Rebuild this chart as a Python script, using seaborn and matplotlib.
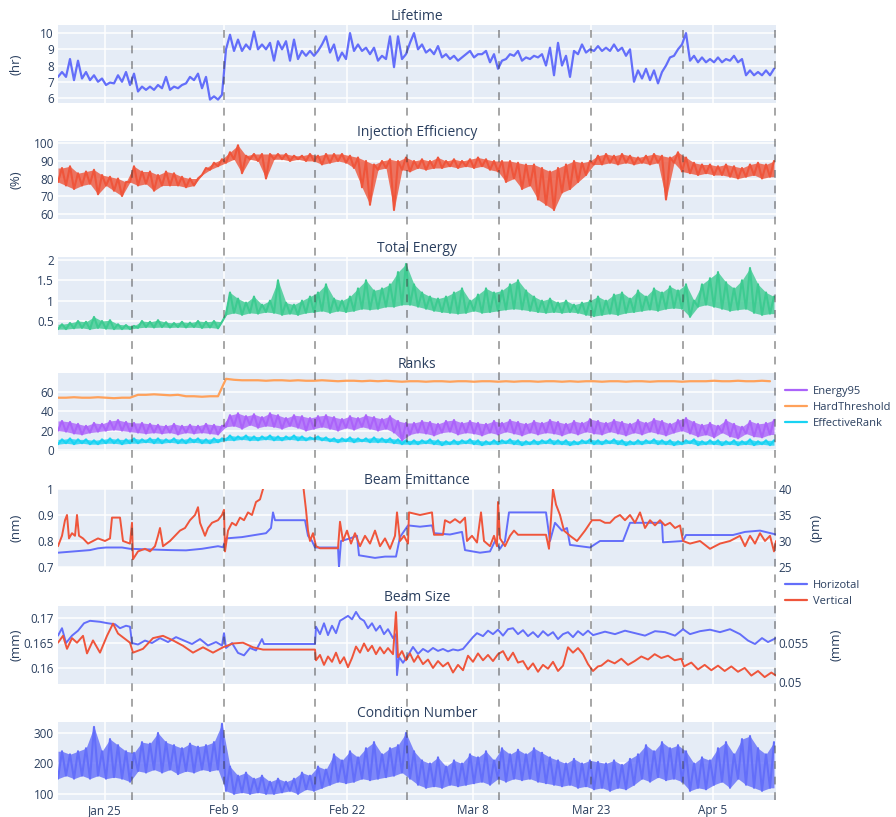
import numpy as np
import matplotlib
matplotlib.use("Agg")
import matplotlib.pyplot as plt
import matplotlib.transforms as mtransforms
from matplotlib.lines import Line2D
from matplotlib.ticker import FuncFormatter
import seaborn as sns

# x axis is "hours since start of the run", ticks carry the date text
tick_hours = [141, 498, 867, 1245, 1599, 1965]
tick_labels = ["Jan 25", "Feb 9", "Feb 22", "Mar 8", "Mar 23", "Apr 5"]
event_hours = [222, 498, 771, 1047, 1323, 1599, 1875, 2151]  # dashed markers

# daily low / high envelopes (one value per day, 90 days)
lifetime_lo = [7.3, 7.3, 7.1, 7.2, 7.1, 7.0, 6.8, 6.9, 7.0, 6.8, 6.4, 6.5, 6.5, 6.6, 6.5, 6.6, 6.9, 7.1, 6.6, 5.9,
               5.9, 9.0, 8.9, 8.9, 9.0, 9.0, 9.0, 8.3, 9.0, 8.3, 8.4, 8.6, 8.6, 9.3, 8.8, 8.3, 8.4, 8.9, 8.9, 8.7,
               8.3, 8.4, 7.9, 8.4, 9.4, 9.0, 8.8, 8.7, 8.5, 8.4, 8.3, 8.7, 8.5, 8.7, 8.2, 7.8, 8.4, 8.6, 8.3, 8.4,
               8.5, 8.0, 7.4, 8.0, 7.3, 8.7, 8.8, 8.9, 8.9, 8.9, 8.9, 8.6, 7.0, 7.2, 7.1, 6.9, 8.0, 8.6, 9.3, 8.3,
               8.2, 8.2, 8.2, 8.2, 8.3, 8.2, 7.4, 7.4, 7.4, 7.4]
lifetime_hi = [7.6, 8.4, 8.3, 7.6, 7.4, 7.2, 6.95, 7.4, 7.6, 7.5, 6.7, 6.7, 6.8, 7.3, 6.7, 6.8, 7.3, 7.5, 7.3, 6.1,
               6.2, 9.9, 9.6, 9.3, 10.1, 9.3, 9.4, 9.5, 9.5, 9.6, 8.9, 8.9, 8.9, 9.8, 9.3, 8.8, 10.0, 9.3, 9.1, 9.1,
               8.6, 9.8, 9.8, 8.7, 10.0, 9.3, 9.0, 9.2, 8.7, 8.6, 8.5, 8.9, 8.7, 8.9, 8.7, 8.3, 8.7, 8.9, 8.5, 8.6,
               8.7, 9.1, 9.4, 8.6, 8.9, 9.3, 9.0, 9.2, 9.1, 9.3, 9.1, 9.0, 7.7, 7.8, 7.7, 7.6, 8.5, 9.0, 10.0, 8.6,
               8.5, 8.4, 8.5, 8.4, 8.6, 8.4, 7.7, 7.6, 7.7, 7.8]

inj_lo = [78, 76, 74, 76, 77, 71, 76, 73, 70, 78, 76, 77, 73, 76, 76, 76, 75, 76, 82, 85,
          87, 89, 91, 83, 91, 90, 80, 91, 91, 90, 91, 90, 90, 88, 89, 90, 89, 86, 75, 65,
          85, 86, 62, 85, 84, 86, 85, 86, 86, 87, 86, 87, 86, 87, 85, 84, 78, 80, 74, 76,
          68, 65, 62, 72, 74, 78, 82, 88, 88, 89, 88, 89, 88, 89, 88, 89, 68, 89, 84, 83,
          82, 83, 82, 82, 81, 80, 81, 82, 80, 81]
inj_hi = [86, 87, 83, 84, 85, 82, 81, 80, 78, 87, 84, 84, 82, 84, 83, 81, 80, 80, 86, 89,
          91, 95, 99, 93, 94, 94, 94, 94, 94, 93, 93, 94, 93, 94, 94, 94, 93, 92, 90, 88,
          90, 91, 90, 92, 90, 91, 90, 92, 90, 91, 90, 91, 92, 91, 90, 90, 90, 89, 88, 88,
          86, 84, 86, 88, 90, 89, 90, 93, 94, 93, 94, 93, 92, 93, 94, 93, 92, 95, 92, 89,
          88, 88, 87, 88, 87, 86, 88, 89, 88, 90]

energy_lo = [0.30, 0.30, 0.32, 0.33, 0.30, 0.33, 0.31, 0.30, 0.30, 0.30, 0.33, 0.35, 0.34, 0.35, 0.34,
             0.35, 0.34, 0.35, 0.33, 0.34, 0.32, 0.65, 0.70, 0.65, 0.70, 0.68, 0.72, 0.70, 0.65, 0.68,
             0.65, 0.70, 0.72, 0.75, 0.70, 0.75, 0.72, 0.75, 0.80, 0.78, 0.80, 0.85, 0.85, 0.90, 0.90,
             0.85, 0.80, 0.75, 0.72, 0.70, 0.68, 0.70, 0.75, 0.70, 0.72, 0.75, 0.78, 0.80, 0.78, 0.75,
             0.72, 0.70, 0.72, 0.70, 0.72, 0.70, 0.65, 0.62, 0.65, 0.68, 0.65, 0.70, 0.72, 0.75, 0.78,
             0.75, 0.80, 0.82, 0.80, 0.60, 0.85, 0.90, 0.85, 0.80, 0.75, 0.78, 0.80, 0.70, 0.65, 0.68]
energy_hi = [0.42, 0.45, 0.50, 0.48, 0.60, 0.50, 0.52, 0.42, 0.40, 0.38, 0.50, 0.48, 0.52, 0.47, 0.45,
             0.48, 0.46, 0.50, 0.48, 0.50, 0.48, 1.20, 1.05, 0.95, 1.10, 0.90, 1.00, 1.50, 0.95, 0.90,
             1.00, 1.10, 1.20, 1.40, 1.05, 1.00, 1.10, 1.30, 1.50, 1.25, 1.30, 1.40, 1.70, 1.90, 1.40,
             1.20, 1.10, 1.05, 1.10, 1.20, 1.30, 1.00, 1.15, 1.30, 1.20, 1.25, 1.40, 1.50, 1.25, 1.10,
             1.00, 1.05, 0.95, 1.00, 0.90, 0.95, 1.00, 1.10, 1.00, 1.15, 1.20, 1.05, 1.25, 1.10, 1.30,
             1.20, 1.35, 1.25, 1.40, 1.00, 1.40, 1.55, 1.70, 1.45, 1.30, 1.50, 1.80, 1.40, 1.20, 1.10]

e95_lo = [20, 19, 17, 16, 18, 19, 20, 21, 20, 19, 18, 17, 18, 17, 18, 16, 18, 17, 18, 17,
          16, 24, 25, 22, 26, 23, 25, 24, 22, 25, 23, 20, 22, 24, 22, 20, 23, 21, 24, 22,
          20, 22, 18, 10, 16, 18, 17, 15, 18, 19, 16, 18, 17, 15, 18, 16, 19, 17, 15, 18,
          16, 18, 17, 15, 18, 16, 19, 17, 16, 19, 17, 15, 18, 16, 19, 17, 15, 18, 20, 17,
          14, 16, 13, 18, 14, 12, 17, 14, 13, 16]
e95_hi = [30, 29, 27, 25, 28, 27, 30, 31, 29, 28, 28, 27, 26, 25, 27, 25, 26, 25, 27, 26,
          25, 36, 38, 35, 37, 34, 38, 36, 33, 36, 35, 33, 35, 36, 34, 32, 35, 33, 36, 34,
          32, 35, 30, 28, 28, 30, 29, 27, 30, 31, 28, 30, 28, 27, 30, 28, 31, 29, 27, 30,
          28, 31, 29, 27, 30, 28, 32, 30, 28, 31, 29, 27, 31, 28, 32, 30, 27, 31, 33, 29,
          26, 28, 25, 31, 27, 24, 30, 27, 28, 31]
hard_threshold = [54, 54, 54.5, 54, 54, 54.5, 54, 53.5, 54, 54, 57, 57, 57.5, 57, 56.5, 57, 55.5, 55.5, 55, 55.5,
                  55.5, 73.5, 72.5, 72, 72, 72, 71.5, 72, 72, 71.5, 72, 71.5, 71.5, 72, 71.5, 71, 71.5, 71.5, 71, 71.5,
                  71, 71.5, 71, 70.5, 71, 71, 70.5, 71, 71, 70.5, 71, 71, 70.5, 71, 71, 70.5, 71, 70.5, 71, 71,
                  70.5, 71, 71, 70.5, 71, 70.5, 71, 71, 70.5, 71, 71, 70.5, 71, 71, 70.5, 71, 71, 71, 70.5, 71,
                  71, 71, 71.5, 71, 71, 71.5, 71, 71, 71.5, 71]
eff_lo = [6, 7, 6, 7, 6, 6, 7, 7, 6, 7, 7, 8, 7, 7, 8, 7, 7, 8, 7, 7,
          8, 10, 10, 11, 10, 10, 11, 10, 10, 11, 10, 10, 11, 10, 9, 8, 9, 8, 9, 8,
          8, 8, 7, 6, 6, 6, 7, 6, 5, 6, 6, 7, 6, 5, 6, 6, 7, 6, 5, 6,
          6, 7, 6, 6, 5, 6, 7, 6, 6, 7, 6, 5, 6, 6, 7, 6, 6, 5, 6, 7,
          5, 6, 6, 5, 6, 5, 6, 5, 6, 5]
eff_hi = [11, 12, 11, 11, 10, 11, 12, 11, 11, 12, 11, 12, 12, 11, 12, 11, 12, 12, 11, 12,
          12, 15, 14, 15, 14, 14, 15, 14, 14, 15, 14, 13, 14, 13, 12, 12, 13, 12, 12, 13,
          12, 12, 11, 10, 10, 10, 11, 10, 9, 10, 10, 11, 10, 9, 10, 10, 11, 10, 9, 10,
          10, 11, 10, 10, 9, 10, 11, 10, 10, 11, 10, 9, 10, 10, 11, 10, 10, 9, 10, 11,
          9, 10, 10, 9, 10, 9, 11, 9, 10, 10]

cond_lo = [150, 160, 150, 160, 150, 160, 150, 155, 150, 140, 175, 170, 180, 170, 180, 165, 175, 170, 180, 175,
           180, 110, 100, 105, 100, 105, 100, 100, 105, 110, 100, 115, 110, 120, 130, 140, 135, 140, 150, 145,
           150, 155, 160, 170, 150, 130, 120, 125, 120, 130, 125, 130, 135, 140, 130, 150, 140, 150, 145, 150,
           140, 135, 130, 125, 130, 120, 125, 115, 120, 110, 120, 115, 130, 150, 140, 155, 145, 150, 140, 110,
           120, 115, 130, 140, 120, 150, 130, 120, 110, 120]
cond_hi = [240, 230, 240, 250, 320, 240, 280, 260, 240, 235, 270, 265, 300, 270, 260, 250, 265, 255, 260, 270,
           330, 190, 160, 170, 150, 160, 140, 150, 140, 150, 170, 160, 190, 180, 230, 210, 240, 220, 250, 270,
           230, 250, 260, 300, 240, 210, 200, 220, 190, 210, 200, 230, 220, 240, 210, 250, 230, 245, 230, 250,
           235, 220, 210, 200, 215, 200, 210, 205, 200, 210, 195, 215, 230, 260, 240, 270, 250, 260, 240, 200,
           220, 210, 250, 270, 230, 280, 290, 250, 230, 270]

# beam emittance: horizontal in nm (left axis), vertical in pm (right axis)
emit_h_hours = [0, 48, 96, 120, 144, 192, 216, 264, 336, 384,
                432, 480, 495, 504, 552, 600, 624, 639, 645, 651,
                741, 750, 762, 771, 840, 843, 849, 876, 897, 903,
                951, 981, 1014, 1026, 1050, 1086, 1122, 1128, 1176, 1212,
                1221, 1266, 1296, 1311, 1326, 1341, 1353, 1464, 1476, 1491,
                1512, 1527, 1536, 1596, 1626, 1695, 1716, 1812, 1815, 1875,
                1884, 2025, 2061, 2106, 2154]
emit_h = [0.755, 0.76, 0.765, 0.772, 0.775, 0.775, 0.77, 0.768, 0.765, 0.764,
          0.77, 0.78, 0.776, 0.81, 0.815, 0.825, 0.83, 0.85, 0.91, 0.88,
          0.88, 0.82, 0.80, 0.775, 0.775, 0.70, 0.80, 0.81, 0.82, 0.745,
          0.735, 0.74, 0.74, 0.815, 0.86, 0.855, 0.86, 0.83, 0.825, 0.835,
          0.765, 0.755, 0.76, 0.80, 0.77, 0.80, 0.91, 0.91, 0.80, 0.87,
          0.84, 0.85, 0.785, 0.775, 0.80, 0.80, 0.87, 0.87, 0.795, 0.80,
          0.823, 0.823, 0.835, 0.84, 0.825]
emit_v_hours = [0, 12, 21, 27, 33, 42, 51, 57, 63, 75,
                90, 105, 120, 141, 156, 162, 186, 195, 216, 222,
                225, 240, 261, 276, 291, 300, 306, 315, 336, 351,
                366, 381, 396, 411, 420, 426, 441, 450, 462, 480,
                492, 498, 501, 510, 522, 534, 546, 558, 570, 582,
                594, 606, 615, 630, 666, 711, 726, 735, 744, 750,
                756, 765, 774, 786, 840, 846, 855, 867, 879, 891,
                906, 921, 936, 951, 966, 981, 996, 1011, 1017, 1026,
                1038, 1050, 1053, 1086, 1122, 1128, 1155, 1161, 1176, 1191,
                1206, 1221, 1227, 1242, 1257, 1269, 1278, 1296, 1308, 1317,
                1320, 1326, 1341, 1356, 1368, 1380, 1464, 1473, 1485, 1494,
                1506, 1518, 1536, 1557, 1581, 1602, 1626, 1641, 1656, 1671,
                1686, 1701, 1716, 1731, 1746, 1761, 1776, 1791, 1806, 1821,
                1836, 1851, 1866, 1875, 1896, 1926, 1956, 1986, 2016, 2046,
                2061, 2076, 2091, 2106, 2121, 2136, 2148, 2154]
emit_v = [29, 31, 34, 35, 30.5, 31.5, 31, 35, 31, 30.5,
          29.5, 30, 30.5, 30, 30.5, 34.5, 34.5, 30, 29.5, 33.5,
          26.5, 28, 28.5, 28, 29, 31, 32.5, 29, 30, 31,
          32, 32.5, 34, 35, 36.5, 33.5, 31, 32.5, 33.5, 34,
          35, 36, 28, 32, 33.5, 33, 34.5, 34, 35.5, 35,
          37.5, 38, 40, 41.5, 42.5, 42, 41, 41, 36, 32,
          30, 31.5, 29, 28.6, 28.6, 33.7, 30, 32, 29.5, 31.5,
          29, 31, 29.5, 32, 29, 30.5, 28.5, 31, 35.5, 30,
          31, 29.5, 35.5, 35, 35.5, 31.2, 31.2, 34, 33.5, 34.2,
          33.5, 34.5, 30, 31, 29.7, 35.5, 30, 29, 31, 29,
          37.5, 30.5, 29, 31, 32, 31.2, 31.2, 28.5, 40, 37,
          35, 32, 31, 30, 32, 34, 34, 33.5, 33.5, 34.5,
          35, 34, 35, 33.5, 35.5, 32.5, 34, 33, 34, 33,
          33.5, 32.5, 33, 30, 29.5, 30, 28.5, 29.5, 30, 31,
          29, 31, 29.5, 31.5, 30, 31, 28, 30]

# beam size: horizontal on the left axis, vertical on the right axis (mm)
size_h_hours = [0, 12, 24, 42, 60, 78, 96, 126, 150, 171,
                186, 204, 216, 222, 240, 261, 282, 306, 330, 354,
                378, 402, 426, 450, 474, 492, 498, 504, 522, 540,
                558, 576, 594, 612, 618, 771, 774, 786, 798, 810,
                822, 834, 846, 858, 870, 882, 894, 906, 918, 930,
                942, 954, 966, 978, 990, 1005, 1014, 1017, 1023, 1035,
                1050, 1065, 1080, 1095, 1110, 1125, 1140, 1155, 1170, 1185,
                1200, 1215, 1230, 1245, 1257, 1275, 1290, 1305, 1320, 1335,
                1350, 1365, 1380, 1395, 1410, 1425, 1440, 1455, 1470, 1485,
                1500, 1515, 1530, 1545, 1560, 1575, 1590, 1605, 1641, 1671,
                1701, 1731, 1761, 1791, 1821, 1851, 1875, 1896, 1926, 1956,
                1986, 2016, 2046, 2070, 2091, 2112, 2130, 2154]
size_h = [0.1665, 0.168, 0.165, 0.1665, 0.1675, 0.169, 0.1695, 0.1693, 0.169, 0.1688,
          0.168, 0.1685, 0.1683, 0.165, 0.1647, 0.1655, 0.165, 0.166, 0.1652, 0.1662,
          0.1655, 0.1648, 0.1658, 0.1645, 0.1652, 0.1645, 0.167, 0.164, 0.165, 0.163,
          0.1625, 0.164, 0.1635, 0.1658, 0.1648, 0.1648, 0.1683, 0.1668, 0.169, 0.1666,
          0.1685, 0.167, 0.1695, 0.170, 0.1705, 0.1698, 0.1713, 0.170, 0.1695, 0.168,
          0.169, 0.1675, 0.1685, 0.1668, 0.1678, 0.166, 0.1668, 0.1585, 0.1622, 0.161,
          0.1625, 0.1642, 0.1628, 0.1638, 0.1632, 0.164, 0.1634, 0.1638, 0.1633, 0.1637,
          0.1635, 0.1638, 0.165, 0.1662, 0.167, 0.1664, 0.1675, 0.1668, 0.1677, 0.1665,
          0.1678, 0.168, 0.1668, 0.1676, 0.1664, 0.1672, 0.1662, 0.1674, 0.1665, 0.1672,
          0.1658, 0.1668, 0.1672, 0.1662, 0.1674, 0.1666, 0.1675, 0.1666, 0.1673, 0.1668,
          0.1675, 0.167, 0.1665, 0.1674, 0.1672, 0.1665, 0.1678, 0.1668, 0.1674, 0.1677,
          0.1672, 0.1678, 0.1668, 0.1655, 0.1648, 0.166, 0.1652, 0.166]
size_v_hours = [0, 15, 27, 42, 57, 75, 87, 105, 126, 147,
                165, 180, 195, 216, 225, 255, 285, 315, 345, 375,
                405, 435, 465, 495, 525, 555, 585, 615, 771, 774,
                786, 798, 810, 822, 834, 846, 858, 870, 882, 894,
                906, 918, 930, 942, 954, 966, 978, 990, 1005, 1014,
                1020, 1032, 1044, 1056, 1068, 1080, 1095, 1110, 1125, 1140,
                1155, 1170, 1185, 1200, 1215, 1230, 1245, 1260, 1275, 1290,
                1305, 1320, 1335, 1350, 1365, 1380, 1395, 1410, 1425, 1440,
                1455, 1470, 1485, 1500, 1515, 1530, 1545, 1560, 1575, 1590,
                1605, 1620, 1630, 1650, 1670, 1690, 1710, 1730, 1750, 1770,
                1790, 1810, 1830, 1850, 1870, 1878, 1900, 1920, 1940, 1960,
                1980, 2000, 2020, 2040, 2060, 2080, 2100, 2120, 2140, 2154]
size_v = [0.0551, 0.0560, 0.0543, 0.0557, 0.0551, 0.0560, 0.0537, 0.0554, 0.0538, 0.0560,
          0.0576, 0.0563, 0.0558, 0.0551, 0.0538, 0.0543, 0.0557, 0.0560, 0.0554, 0.0547,
          0.0538, 0.0545, 0.0538, 0.0545, 0.0550, 0.0551, 0.0545, 0.0542, 0.0542, 0.0528,
          0.0535, 0.0522, 0.0533, 0.0526, 0.0538, 0.0524, 0.0532, 0.0519, 0.0531, 0.0546,
          0.0538, 0.0550, 0.0540, 0.0547, 0.0536, 0.0545, 0.0537, 0.0544, 0.0536, 0.0591,
          0.0532, 0.0540, 0.0528, 0.0537, 0.0526, 0.0534, 0.0523, 0.0529, 0.0518, 0.0527,
          0.0520, 0.0525, 0.0512, 0.0522, 0.0515, 0.0534, 0.0526, 0.0537, 0.0528, 0.0535,
          0.0527, 0.0536, 0.0540, 0.0528, 0.0538, 0.0525, 0.0527, 0.0516, 0.0524, 0.0513,
          0.0522, 0.0517, 0.0526, 0.0514, 0.0521, 0.0545, 0.0538, 0.0544, 0.0536, 0.0523,
          0.0514, 0.0520, 0.0521, 0.0528, 0.0524, 0.0530, 0.0522, 0.0527, 0.0533, 0.0529,
          0.0536, 0.0531, 0.0534, 0.0528, 0.0530, 0.0520, 0.0525, 0.0516, 0.0522, 0.0515,
          0.0521, 0.0514, 0.0520, 0.0513, 0.0518, 0.0508, 0.0514, 0.0506, 0.0512, 0.0508]

BLUE, RED, GREEN = "#636EFA", "#EF553B", "#3DCB91"
PURPLE, ORANGE, CYAN = "#AB63FA", "#FFA15A", "#19D3F3"
TXT = "#2a3f5f"

sns.set_theme(style="darkgrid")
plt.rcParams["font.family"] = ["Open Sans", "DejaVu Sans"]
plt.rcParams["text.color"] = TXT


def zigzag(lo, hi):
    # alternate daily low and high readings, half a day apart
    hours = np.arange(len(lo)) * 24
    x = np.column_stack([hours, hours + 12]).ravel()
    y = np.column_stack([lo, hi]).ravel()
    return x, y


def draw(ax, x, y, color, lw=1.4):
    sns.lineplot(x=np.asarray(x), y=np.asarray(y), ax=ax, color=color, linewidth=lw,
                 estimator=None, sort=False, legend=False)


def band(ax, lo, hi, color):
    # dense noise: shade the daily envelope, then trace the readings on top
    x, y = zigzag(lo, hi)
    ax.fill_between(x, np.interp(x, x[0::2], lo), np.interp(x, x[1::2], hi),
                    color=color, alpha=0.8, linewidth=0)
    draw(ax, x, y, color, lw=1.5)


fmt = FuncFormatter(lambda v, p: "{:g}".format(v))

W, H = 896, 817
fig = plt.figure(figsize=(W / 100, H / 100), dpi=100)
tops = [25, 141, 257, 373, 489, 606, 722]
axes = []
for top in tops:
    ax = fig.add_axes([58 / W, 1 - (top + 78) / H, 718 / W, 78 / H])
    ax.set_facecolor("#E5ECF6")
    ax.grid(True, color="white", linewidth=1.1)
    for s in ax.spines.values():
        s.set_visible(False)
    ax.tick_params(length=0, labelsize=8.5, colors=TXT, pad=3)
    axes.append(ax)

titles = ["Lifetime", "Injection Efficiency", "Total Energy", "Ranks",
          "Beam Emittance", "Beam Size", "Condition Number"]

draw(axes[0], *zigzag(lifetime_lo, lifetime_hi), BLUE, lw=1.6)
band(axes[1], inj_lo, inj_hi, RED)
band(axes[2], energy_lo, energy_hi, GREEN)
draw(axes[3], np.arange(len(hard_threshold)) * 24, hard_threshold, ORANGE, lw=1.6)
band(axes[3], e95_lo, e95_hi, PURPLE)
band(axes[3], eff_lo, eff_hi, CYAN)
draw(axes[4], emit_h_hours, emit_h, BLUE)
draw(axes[5], size_h_hours, size_h, BLUE)
band(axes[6], cond_lo, cond_hi, BLUE)

ax5r = axes[4].twinx()
draw(ax5r, emit_v_hours, emit_v, RED)
ax6r = axes[5].twinx()
draw(ax6r, size_v_hours, size_v, RED)
for axr in (ax5r, ax6r):
    axr.grid(False)
    for s in axr.spines.values():
        s.set_visible(False)
    axr.tick_params(length=0, labelsize=8.5, colors=TXT, pad=2)
    axr.yaxis.set_major_formatter(fmt)

ylims = [(5.69, 10.5), (56.9, 101.4), (0.156, 2.07), (-1, 79.5), (0.7, 1.0), (0.1567, 0.1725), (80, 336)]
yticks = [[6, 7, 8, 9, 10], [60, 70, 80, 90, 100], [0.5, 1, 1.5, 2], [0, 20, 40, 60],
          [0.7, 0.8, 0.9, 1], [0.16, 0.165, 0.17], [100, 200, 300]]
ylabels = ["(hr)", "(%)", "", "", "(nm)", "(mm)", ""]

for i, ax in enumerate(axes):
    ax.set_xlim(0, 2154)
    ax.set_ylim(*ylims[i])
    ax.set_yticks(yticks[i])
    ax.yaxis.set_major_formatter(fmt)
    ax.set_xticks(tick_hours)
    ax.set_xticklabels(tick_labels if i == len(axes) - 1 else [])
    ax.set_xlabel("")
    ax.set_ylabel(ylabels[i], fontsize=9.5, color=TXT)
    ax.yaxis.set_label_coords(-0.05, 0.5)
    ax.set_title(titles[i], fontsize=10, color=TXT, pad=3.5)

ax5r.set_ylim(25, 40)
ax5r.set_yticks([25, 30, 35, 40])
ax5r.set_ylabel("(pm)", fontsize=9.5, color=TXT)
ax5r.yaxis.set_label_coords(1.047, 0.5)
ax6r.set_ylim(0.0497, 0.0599)
ax6r.set_yticks([0.05, 0.055])
ax6r.set_ylabel("(mm)", fontsize=9.5, color=TXT)
ax6r.yaxis.set_label_coords(1.075, 0.5)
for axr in (ax5r, ax6r):
    axr.set_xlim(0, 2154)

# dashed event markers running through all panels
trans = mtransforms.blended_transform_factory(axes[-1].transData, fig.transFigure)
for h in event_hours:
    fig.add_artist(Line2D([h, h], [1 - 800 / H, 1 - 25 / H], transform=trans, color="#3a3a3a",
                          alpha=0.45, linewidth=1.4, linestyle=(0, (4, 4))))

rank_handles = [Line2D([], [], color=c, linewidth=1.6) for c in (PURPLE, ORANGE, CYAN)]
fig.legend(rank_handles, ["Energy95", "HardThreshold", "EffectiveRank"], loc="upper left",
           bbox_to_anchor=(777 / W, 1 - 378 / H), frameon=False, fontsize=8,
           handlelength=2.0, labelspacing=0.45, borderpad=0.2, handletextpad=0.5)
beam_handles = [Line2D([], [], color=c, linewidth=1.6) for c in (BLUE, RED)]
fig.legend(beam_handles, ["Horizotal", "Vertical"], loc="upper left",
           bbox_to_anchor=(777 / W, 1 - 572 / H), frameon=True, facecolor="white", edgecolor="white",
           framealpha=1, fontsize=8, handlelength=2.0, labelspacing=0.45, borderpad=0.2,
           handletextpad=0.5)

fig.savefig("out.png", dpi=100, facecolor="white")
